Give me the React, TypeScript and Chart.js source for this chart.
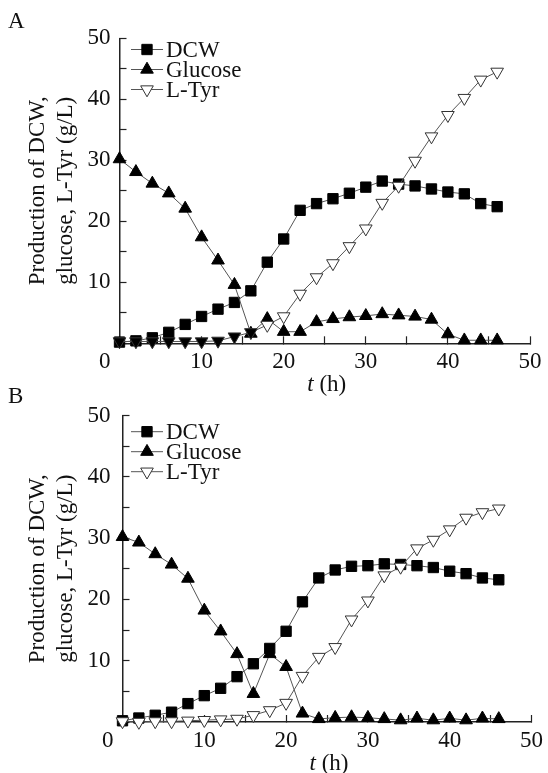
import React, { useEffect, useRef } from 'react';
import { Chart, registerables } from 'chart.js';
import { drawPoint } from 'chart.js/helpers';

Chart.register(...registerables);

// ---------- data ----------
const TIME_H = [0, 2, 4, 6, 8, 10, 12, 14, 16, 18, 20, 22, 24, 26, 28, 30, 32, 34, 36, 38, 40, 42, 44, 46];

const A_DCW = [0.2, 0.4, 0.9, 1.8, 3.1, 4.4, 5.6, 6.7, 8.6, 13.3, 17.1, 21.8, 22.9, 23.7, 24.6, 25.6, 26.6, 26.1, 25.8, 25.3, 24.8, 24.5, 22.9, 22.4];
const A_GLUCOSE = [30.2, 28.1, 26.2, 24.6, 22.1, 17.4, 13.6, 9.6, 1.6, 4.0, 1.9, 1.9, 3.5, 4.0, 4.3, 4.5, 4.8, 4.6, 4.4, 3.9, 1.5, 0.5, 0.5, 0.5];
const A_LTYR = [0.3, 0.3, 0.3, 0.3, 0.3, 0.3, 0.4, 1.1, 1.8, 3.0, 4.4, 8.1, 10.8, 13.1, 15.9, 18.8, 23.0, 25.8, 29.9, 33.9, 37.4, 40.2, 43.2, 44.5];

const B_DCW = [0.2, 0.65, 1.1, 1.6, 3.0, 4.3, 5.5, 7.4, 9.5, 12.0, 14.8, 19.6, 23.5, 24.8, 25.4, 25.5, 25.8, 25.7, 25.5, 25.2, 24.6, 24.2, 23.5, 23.2];
const B_GLUCOSE = [30.2, 29.3, 27.4, 25.7, 23.4, 18.2, 14.8, 11.1, 4.6, 11.1, 9.0, 1.4, 0.5, 0.7, 0.8, 0.7, 0.5, 0.3, 0.6, 0.3, 0.6, 0.3, 0.6, 0.5];
const B_LTYR = [0.1, 0.0, 0.1, 0.1, 0.2, 0.3, 0.4, 0.5, 1.1, 1.9, 3.1, 7.5, 10.6, 12.2, 16.7, 19.8, 23.9, 25.3, 28.3, 29.7, 31.4, 33.3, 34.2, 34.8];

const SERIES_LABELS = ['DCW', 'Glucose', 'L-Tyr'];
const Y_TITLE = ['Production of DCW,', 'glucose, L-Tyr (g/L)'];
const X_TITLE_VAR = 't';
const X_TITLE_UNIT = ' (h)';
const ORIGIN_LABEL = '0';
const AXIS_MIN = 0;
const AXIS_MAX = 50;
const TICK_STEP = 5;
const LABEL_STEP = 10;

// ---------- styles ----------
const FONT = "'Liberation Serif', 'Times New Roman', serif";
const FONT_SIZE = 23;
const INK = '#111111';
const LINE = '#555555';
const MARKER_R = 7.3;

const decorPlugin = {
  id: 'panelDecor',
  afterDraw(chart: any, _args: any, opts: any) {
    const ctx = chart.ctx;
    const area = chart.chartArea;
    ctx.save();
    ctx.fillStyle = INK;
    ctx.textBaseline = 'middle';
    ctx.textAlign = 'left';
    ctx.font = `${FONT_SIZE}px ${FONT}`;
    ctx.fillText(opts.letter, opts.letterX, opts.letterY);

    // shared origin label
    ctx.textAlign = 'right';
    ctx.fillText(ORIGIN_LABEL, area.left - 9, area.bottom + 18.5);
    ctx.textAlign = 'left';

    // legend
    chart.data.datasets.forEach((ds: any, i: number) => {
      const y = opts.legendY + i * opts.legendGap;
      ctx.strokeStyle = ds.borderColor;
      ctx.lineWidth = 1;
      ctx.beginPath();
      ctx.moveTo(opts.legendX, y);
      ctx.lineTo(opts.legendX + 32, y);
      ctx.stroke();
      ctx.fillStyle = ds.backgroundColor;
      ctx.strokeStyle = ds.pointBorderColor;
      ctx.lineWidth = 1;
      drawPoint(ctx, {
        pointStyle: ds.pointStyle,
        rotation: ds.pointRotation || 0,
        radius: ds.pointRadius,
        borderWidth: 1,
      }, opts.legendX + 16, y);
      ctx.fillStyle = INK;
      ctx.font = `${FONT_SIZE}px ${FONT}`;
      ctx.fillText(ds.label, opts.legendX + 35, y + 1);
    });

    // x-axis title with italic variable
    const italic = `italic ${FONT_SIZE}px ${FONT}`;
    const normal = `${FONT_SIZE}px ${FONT}`;
    ctx.font = italic;
    const w1 = ctx.measureText(X_TITLE_VAR).width;
    ctx.font = normal;
    const w2 = ctx.measureText(X_TITLE_UNIT).width;
    const cx = (area.left + area.right) / 2 + 2;
    const x0 = cx - (w1 + w2) / 2;
    const ty = area.bottom + opts.xTitleOffset;
    ctx.fillStyle = INK;
    ctx.font = italic;
    ctx.fillText(X_TITLE_VAR, x0, ty);
    ctx.font = normal;
    ctx.fillText(X_TITLE_UNIT, x0 + w1, ty);
    ctx.restore();
  },
};

type PanelCfg = {
  top: number;
  height: number;
  padTop: number;
  left: number;
  right: number;
  axisY: number;
  yTickPad: number;
  letter: string;
  letterY: number;
  legendY: number;
  dcw: number[];
  glucose: number[];
  ltyr: number[];
  ltyrFill: string[] | string;
};

function buildConfig(cfg: PanelCfg): any {
  const pts = (ys: number[]) => TIME_H.map((t, i) => ({ x: t, y: ys[i] }));
  return {
    type: 'line',
    data: {
      datasets: [
        {
          label: SERIES_LABELS[0],
          data: pts(cfg.dcw),
          borderColor: LINE,
          borderWidth: 1,
          backgroundColor: '#000',
          pointStyle: 'rect',
          pointRadius: MARKER_R,
          pointBackgroundColor: '#000',
          pointBorderColor: '#000',
          pointBorderWidth: 1,
          order: 3,
          clip: false,
          fill: false,
        },
        {
          label: SERIES_LABELS[1],
          data: pts(cfg.glucose),
          borderColor: LINE,
          borderWidth: 1,
          backgroundColor: '#000',
          pointStyle: 'triangle',
          pointRadius: MARKER_R,
          pointBackgroundColor: '#000',
          pointBorderColor: '#000',
          pointBorderWidth: 1,
          order: 2,
          clip: false,
          fill: false,
        },
        {
          label: SERIES_LABELS[2],
          data: pts(cfg.ltyr),
          borderColor: LINE,
          borderWidth: 1,
          backgroundColor: '#fff',
          pointStyle: 'triangle',
          pointRotation: 180,
          pointRadius: MARKER_R,
          pointBackgroundColor: cfg.ltyrFill,
          pointBorderColor: '#333',
          pointBorderWidth: 1,
          order: 1,
          clip: false,
          fill: false,
        },
      ],
    },
    options: {
      animation: false,
      responsive: false,
      events: [],
      layout: { padding: { top: cfg.padTop, right: 548 - cfg.right, bottom: 0, left: 0 } },
      plugins: {
        legend: { display: false },
        tooltip: { enabled: false },
        panelDecor: {
          letter: cfg.letter,
          letterX: 8,
          letterY: cfg.letterY,
          legendX: 131,
          legendY: cfg.legendY,
          legendGap: 20,
          xTitleOffset: 41.7,
        },
      },
      scales: {
        x: {
          type: 'linear',
          min: AXIS_MIN,
          max: AXIS_MAX,
          afterFit: (s: any) => { s.height = cfg.height - cfg.axisY; },
          border: { display: true, color: '#222', width: 1.5 },
          grid: { drawOnChartArea: false, drawTicks: true, tickLength: -7, tickColor: '#222', tickWidth: 1.2 },
          ticks: {
            stepSize: TICK_STEP,
            autoSkip: false,
            maxRotation: 0,
            padding: 2,
            color: INK,
            font: { family: FONT, size: FONT_SIZE, lineHeight: 2.06 },
            callback: (v: number) => (v === 0 ? '' : v % LABEL_STEP === 0 ? String(v) : ''),
          },
          title: { display: false },
        },
        y: {
          type: 'linear',
          min: AXIS_MIN,
          max: AXIS_MAX,
          afterFit: (s: any) => { s.width = cfg.left; },
          border: { display: true, color: '#222', width: 1.5 },
          grid: { drawOnChartArea: false, drawTicks: true, tickLength: -7, tickColor: '#222', tickWidth: 1.2 },
          ticks: {
            stepSize: TICK_STEP,
            autoSkip: false,
            padding: cfg.yTickPad,
            color: INK,
            font: { family: FONT, size: FONT_SIZE, lineHeight: 0.85 },
            callback: (v: number) => (v === 0 ? '' : v % LABEL_STEP === 0 ? String(v) : ''),
          },
          title: {
            display: true,
            text: Y_TITLE,
            color: INK,
            font: { family: FONT, size: FONT_SIZE, lineHeight: 1.2 },
            padding: { top: 24.2, bottom: 0 },
          },
        },
      },
    },
    plugins: [decorPlugin],
  };
}

function Panel({ cfg }: { cfg: PanelCfg }) {
  const ref = useRef<HTMLCanvasElement>(null);
  useEffect(() => {
    if (!ref.current) return;
    const chart = new Chart(ref.current, buildConfig(cfg));
    return () => chart.destroy();
  }, []);
  return (
    <canvas
      ref={ref}
      width={548}
      height={cfg.height}
      style={{ position: 'absolute', left: 0, top: cfg.top, width: 548, height: cfg.height, display: 'block' }}
    />
  );
}

const PANEL_A: PanelCfg = {
  top: 0,
  height: 400,
  padTop: 38.3,
  left: 119.5,
  right: 530,
  axisY: 343.3,
  yTickPad: 16,
  letter: 'A',
  letterY: 22,
  legendY: 49.5,
  dcw: A_DCW,
  glucose: A_GLUCOSE,
  ltyr: A_LTYR,
  ltyrFill: TIME_H.map((_, i) => (i < 9 ? '#000' : '#fff')),
};

const PANEL_B: PanelCfg = {
  top: 386,
  height: 387,
  padTop: 29.5,
  left: 122.5,
  right: 531.5,
  axisY: 336,
  yTickPad: 19,
  letter: 'B',
  letterY: 11,
  legendY: 45.7,
  dcw: B_DCW,
  glucose: B_GLUCOSE,
  ltyr: B_LTYR,
  ltyrFill: '#fff',
};

export default function App() {
  return (
    <div style={{ position: 'absolute', left: 0, top: 0, width: 548, height: 773, background: '#fff', overflow: 'hidden' }}>
      <Panel cfg={PANEL_A} />
      <Panel cfg={PANEL_B} />
    </div>
  );
}
